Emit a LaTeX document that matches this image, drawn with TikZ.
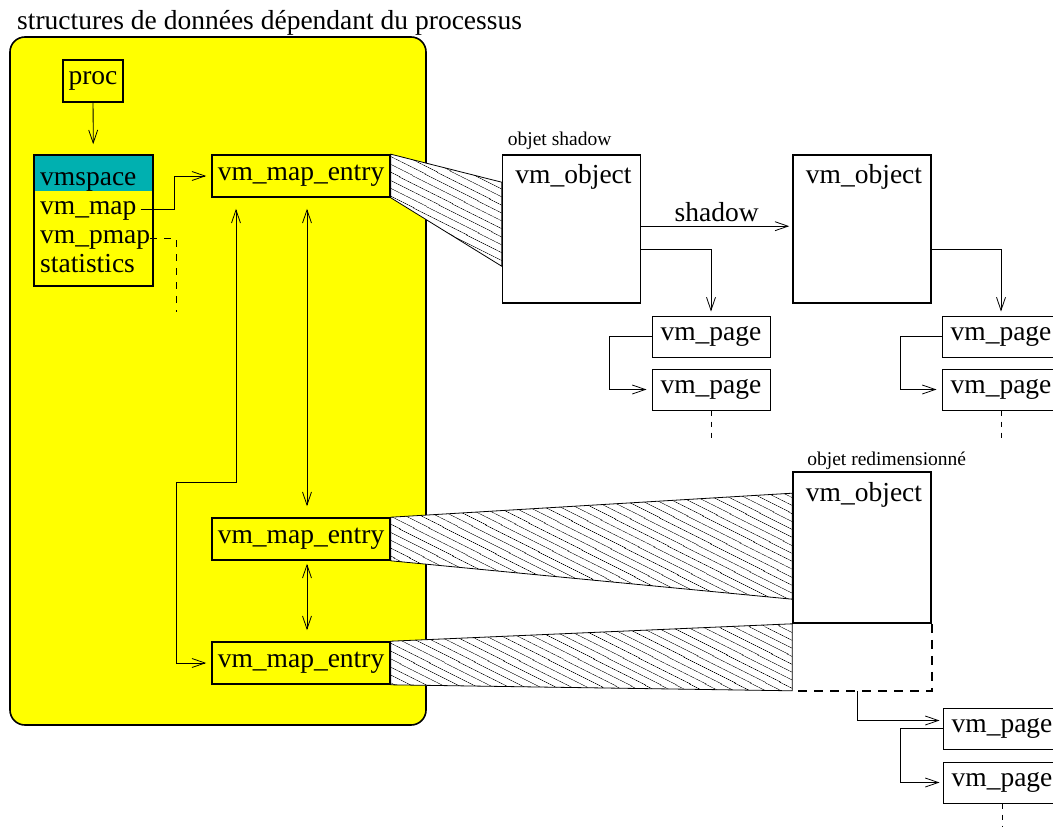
\documentclass[tikz,border=0pt]{standalone}
\usepackage{fontspec}
\setmainfont{Liberation Serif}
\usetikzlibrary{arrows.meta,patterns.meta,backgrounds,calc}
\newcommand{\grand}{\fontsize{27.5}{30}\selectfont}
\newcommand{\petit}{\fontsize{19.5}{22}\selectfont}
\definecolor{jaune}{HTML}{FFFF00}
\definecolor{sarcelle}{HTML}{00B0B0}
\tikzset{
  every picture/.style={font=\grand, line join=miter, >={Straight Barb[length=13pt,width=9pt]}},
  fin/.style={line width=0.8pt},
  epais/.style={line width=1.6pt},
  entree/.style={draw, epais, fill=jaune, minimum width=178pt, minimum height=42pt, inner sep=0pt},
  objet/.style={draw, epais, fill=white, minimum width=138pt, minimum height=148pt, inner sep=0pt},
  pagebox/.style={draw, line width=1pt, fill=white, minimum width=118pt, minimum height=41pt, inner sep=0pt},
  champ/.style={anchor=base west, inner sep=0pt},
  hachure/.style={fin, preaction={fill=white}, pattern={Lines[angle=-27,distance=6.5pt,line width=0.6pt]}},
  pointille/.style={dash pattern=on 7pt off 7pt},
}

\begin{document}
\begin{tikzpicture}[x=1pt,y=-1pt]
\useasboundingbox (0,0) rectangle (1053,827);
\clip (0,0) rectangle (1053,827);
\begin{scope}[on background layer]
\draw[epais, fill=jaune, rounded corners=15pt] (10,37) rectangle (426,725);
\fill[sarcelle] (34,155) rectangle (153,191);
\end{scope}
\node[anchor=base west, inner sep=0pt] (titre) at (17,30) {structures de données dépendant du processus};

\node[draw, epais, minimum width=60pt, minimum height=42pt, inner sep=0pt] (proc) at (93,81) {proc};
\node[draw, epais, minimum width=119pt, minimum height=131pt, inner sep=0pt] (vmspace) at (93.5,220.5) {};
\node[champ] (f-vmspace) at (40,185) {vmspace};
\node[champ] (f-vmmap) at (40,214) {vm\_map};
\node[champ] (f-vmpmap) at (40,243) {vm\_pmap};
\node[champ] (f-stats) at (40,272) {statistics};

\node[entree] (e1) at (301,176) {vm\_map\_entry};
\node[entree] (e2) at (301,539) {vm\_map\_entry};
\node[entree] (e3) at (301,663) {vm\_map\_entry};

\node[objet] (obj1) at (571.5,229) {};
\node[objet] (obj2) at (862,229) {};
\node[objet, minimum height=151pt] (obj3) at (862,547.5) {};
\node[anchor=base] (t-obj1) at ([xshift=2pt,yshift=-29pt]obj1.north) {vm\_object};
\node[anchor=base] (t-obj2) at ([xshift=2pt,yshift=-29pt]obj2.north) {vm\_object};
\node[anchor=base] (t-obj3) at ([xshift=2pt,yshift=-30pt]obj3.north) {vm\_object};
\node[anchor=base west, inner sep=0pt, font=\petit] (l-obj1) at ([xshift=6pt,yshift=9pt]obj1.north west) {objet shadow};
\node[anchor=base west, inner sep=0pt, font=\petit] (l-obj3) at ([xshift=15pt,yshift=6pt]obj3.north west) {objet redimensionné};

\node[pagebox] (pg1) at (711,336.5) {vm\_page};
\node[pagebox] (pg2) at (711,389.5) {vm\_page};
\node[pagebox] (pg3) at (1001,336.5) {vm\_page};
\node[pagebox] (pg4) at (1001,389.5) {vm\_page};
\node[pagebox] (pg5) at (1002,728.5) {vm\_page};
\node[pagebox] (pg6) at (1002,782.5) {vm\_page};

\draw[fin,->,shorten >=10pt] (proc) -- (vmspace);
\draw[fin,->,shorten >=5pt] ([xshift=4pt,yshift=5pt]f-vmmap.base east) -- ++(34,0) |- (e1.west);
\draw[fin,pointille] ([yshift=5pt]f-vmpmap.base east) -- ++(26,0) -- ++(0,74);
\draw[fin,<->,shorten <=11pt,shorten >=11pt] ([xshift=6pt]e1.south) -- ([xshift=6pt]e2.north);
\draw[fin,<->,shorten <=3pt,shorten >=11pt] ([xshift=6pt]e2.south) -- ([xshift=6pt]e3.north);
\coordinate (coude) at (176,482);
\draw[fin,<->,shorten <=11pt,shorten >=5pt] ([xshift=-65pt]e1.south) |- (coude) |- (e3.west);

\begin{scope}[on background layer]
\draw[hachure] (e1.north east) -- ([yshift=-28pt]obj1.north west) -- ([yshift=-112pt]obj1.north west) -- (e1.south east) -- cycle;
\draw[hachure] (e2.north east) -- ([yshift=-22pt]obj3.north west) -- ([yshift=-128pt]obj3.north west) -- (e2.south east) -- cycle;
\draw[hachure] (e3.north east) -- (obj3.south west) -- ([yshift=-67pt]obj3.south west) -- (e3.south east) -- cycle;
\end{scope}
\coordinate (ext-e) at ([yshift=-67pt]obj3.south east);
\coordinate (ext-o) at ([yshift=-67pt]obj3.south west);
\draw[epais, dash pattern=on 9pt off 7pt] (obj3.south east) -- (ext-e) -- (ext-o);

\draw[fin,->,shorten >=3pt] ([yshift=-72pt]obj1.north east) -- node[above, inner sep=4pt] (l-shadow) {shadow} ([yshift=-72pt]obj2.north west);
\draw[fin,->,shorten >=4pt] ([yshift=-95pt]obj1.north east) -| (pg1.north);
\draw[fin,->,shorten >=4pt] ([yshift=-95pt]obj2.north east) -| (pg3.north);
\draw[fin,->,shorten >=3pt] ($(ext-o)!0.47!(ext-e)$) |- ([yshift=8pt]pg5.west);

\draw[fin,->,shorten >=5pt] (pg1.west) -- ++(-42,0) |- (pg2.west);
\draw[fin,->,shorten >=5pt] (pg3.west) -- ++(-41,0) |- (pg4.west);
\draw[fin,->,shorten >=3pt] (pg5.west) -- ++(-42,0) |- (pg6.west);
\draw[fin,dash pattern=on 5pt off 6pt] (pg2.south) -- ++(0,30);
\draw[fin,dash pattern=on 5pt off 6pt] (pg4.south) -- ++(0,30);
\draw[fin,dash pattern=on 5pt off 6pt] (pg6.south) -- ++(0,30);
\end{tikzpicture}
\end{document}
